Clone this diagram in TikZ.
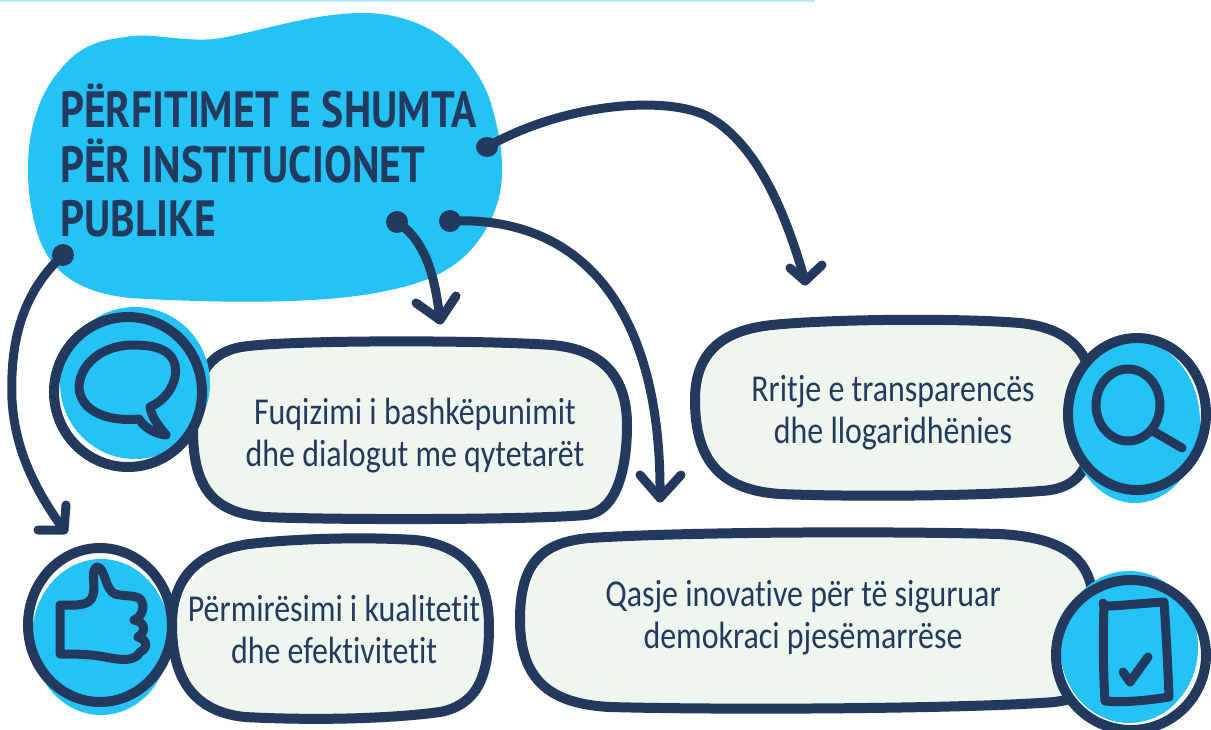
\documentclass[tikz,border=0pt]{standalone}
\usepackage{fontspec}
\setmainfont[FakeStretch=0.84,Ligatures=NoCommon]{Carlito}
\newfontfamily\titlefont[FakeStretch=0.82]{PT Sans}
\definecolor{navy}{HTML}{233A5E}
\definecolor{sky}{HTML}{25C3F5}
\definecolor{mint}{HTML}{EFF6EE}
\definecolor{topline}{HTML}{BDEBFB}
\tikzset{
  outline/.style={draw=navy,line width=10pt,line join=round,line cap=round},
  boxfill/.style={fill=mint},
  iconline/.style={draw=navy,line width=9pt,line join=round,line cap=round},
  conn/.style={draw=navy,line width=9pt,line cap=round,line join=round},
  dot/.style={fill=navy},
  bodytext/.style={text=navy,align=center,font=\fontsize{38}{42}\selectfont,inner sep=0pt},
  titletext/.style={text=navy,align=left,font=\titlefont\bfseries\fontsize{51}{54.5}\selectfont,inner sep=0pt}
}
\newcommand{\boxA}{(249,346) .. controls (300,340) and (480,340) .. (552,345) .. controls (610,350) and (627,385) .. (627,425) .. controls (627,460) and (620,512) .. (585,515) .. controls (530,520) and (330,520) .. (265,517) .. controls (215,513) and (193,490) .. (193,430) .. controls (193,380) and (205,350) .. (249,346) -- cycle}
\newcommand{\boxB}{(772,325) .. controls (830,319) and (960,318) .. (1020,323) .. controls (1060,327) and (1085,345) .. (1090,375) -- (1090,450) .. controls (1085,480) and (1065,490) .. (1040,491) .. controls (980,496) and (850,497) .. (780,494) .. controls (720,490) and (695,460) .. (695,400) .. controls (695,350) and (725,330) .. (772,325) -- cycle}
\newcommand{\boxC}{(249,544) .. controls (300,538) and (370,537) .. (415,540) .. controls (465,545) and (489,575) .. (489,627) .. controls (489,680) and (475,705) .. (440,712) .. controls (380,720) and (300,720) .. (245,717) .. controls (195,712) and (172,680) .. (172,625) .. controls (172,580) and (195,552) .. (249,544) -- cycle}
\newcommand{\boxD}{(590,538) .. controls (680,532) and (880,531) .. (1000,534) .. controls (1050,537) and (1085,550) .. (1092,590) -- (1092,680) .. controls (1085,700) and (1060,702) .. (1040,703) .. controls (940,709) and (720,710) .. (610,707) .. controls (550,704) and (520,680) .. (520,620) .. controls (520,565) and (540,542) .. (590,538) -- cycle}
\begin{document}
\begin{tikzpicture}[x=1pt,y=-1pt]
\useasboundingbox (0,0) rectangle (1211,729);
\clip (0,0) rectangle (1211,729);
\fill[topline] (0,0) rectangle (815,2);
% title blob
\fill[sky] (126,37) .. controls (150,32) and (180,42) .. (215,39) .. controls (260,32) and (310,13) .. (364,13) .. controls (420,13) and (470,45) .. (490,100) .. controls (505,150) and (508,190) .. (488,225) .. controls (470,260) and (440,280) .. (390,290) .. controls (340,302) and (250,305) .. (130,298) .. controls (70,292) and (45,265) .. (35,225) .. controls (22,175) and (25,110) .. (60,70) .. controls (80,45) and (100,40) .. (126,37) -- cycle;
\node[titletext,anchor=north west] (title) at (60,84) {PËRFITIMET E SHUMTA\\PËR INSTITUCIONET\\PUBLIKE};
% boxes
\fill[boxfill,shift={(5,5)}] \boxA;
\draw[outline] \boxA;
\fill[boxfill,shift={(5,5)}] \boxB;
\draw[outline] \boxB;
\fill[boxfill,shift={(5,5)}] \boxC;
\draw[outline] \boxC;
\fill[boxfill,shift={(5,5)}] \boxD;
\draw[outline] \boxD;
\node[bodytext] (t1) at (415,436) {Fuqizimi i bashkëpunimit\\dhe dialogut me qytetarët};
\node[bodytext] (t2) at (893,413) {Rritje e transparencës\\dhe llogaridhënies};
\node[bodytext] (t3) at (334,629) {Përmirësimi i kualitetit\\dhe efektivitetit};
\node[bodytext] (t4) at (803,618) {Qasje inovative për të siguruar\\demokraci pjesëmarrëse};
% circles
\fill[white] (128,392) ellipse [x radius=74,y radius=75];
\fill[sky] (135,383) ellipse [x radius=75,y radius=76];
\draw[outline] (128,392) ellipse [x radius=74,y radius=75];
\fill[white] (100,625) ellipse [x radius=72,y radius=77];
\fill[sky] (101,637) ellipse [x radius=69,y radius=78];
\draw[outline] (100,625) ellipse [x radius=72,y radius=77];
\fill[white] (1137,414) ellipse [x radius=69,y radius=76];
\fill[sky] (1135,422) ellipse [x radius=65,y radius=81];
\draw[outline] (1137,414) ellipse [x radius=69,y radius=76];
\fill[white] (1131,655) ellipse [x radius=75,y radius=75];
\fill[sky] (1129,647) ellipse [x radius=69,y radius=76];
\draw[outline] (1131,655) ellipse [x radius=75,y radius=75];
% icons
\draw[iconline] (150,407) .. controls (170,398) and (178,378) .. (175,365) .. controls (170,345) and (145,345) .. (129,345) .. controls (100,347) and (80,365) .. (79,387) .. controls (80,410) and (105,422) .. (139,419) .. controls (145,428) and (155,434) .. (166,435) .. controls (158,425) and (152,418) .. (150,407) -- cycle;
\draw[iconline] (60,605) .. controls (75,605) and (90,607) .. (93,595) .. controls (96,585) and (90,570) .. (97,567) .. controls (105,567) and (105,590) .. (115,594) .. controls (125,597) and (140,594) .. (142,602) .. controls (145,610) and (140,618) .. (134,620) .. controls (146,622) and (146,632) .. (138,637) .. controls (148,640) and (148,648) .. (140,652) .. controls (135,662) and (120,660) .. (105,657) .. controls (90,654) and (75,654) .. (60,654) -- cycle;
\draw[iconline] (1128,405) ellipse [x radius=32,y radius=36];
\draw[iconline] (1153,431) -- (1182,448);
\draw[iconline] (1103,603) -- (1104,606) .. controls (1120,606) and (1145,603) .. (1164,602) .. controls (1166,630) and (1168,670) .. (1169,697) .. controls (1150,700) and (1125,703) .. (1105,701) .. controls (1103,670) and (1103,630) .. (1104,606);
\draw[iconline] (1123,672) -- (1130,682) -- (1148,657);
% connectors
\coordinate (dotA) at (487,147);
\coordinate (tipA) at (805,281);
\coordinate (dotB) at (397,222);
\coordinate (tipB) at (440,320);
\coordinate (dotC) at (450,221);
\coordinate (tipC) at (660,498);
\coordinate (dotD) at (63,255);
\coordinate (tipD) at (64,530);
\fill[dot] (dotA) ellipse [x radius=11,y radius=10];
\fill[dot] (dotB) ellipse [x radius=11,y radius=11];
\fill[dot] (dotC) ellipse [x radius=11,y radius=11];
\fill[dot] (dotD) ellipse [x radius=11,y radius=11];
\draw[conn] (dotA) .. controls (560,105) and (660,95) .. (705,115) .. controls (755,140) and (785,210) .. (tipA);
\draw[conn] (790,268) -- (tipA) -- (822,265);
\draw[conn] (dotB) .. controls (425,240) and (435,275) .. (tipB);
\draw[conn] (416,303) -- (tipB) -- (456,296);
\draw[conn] (dotC) .. controls (590,215) and (662,320) .. (tipC);
\draw[conn] (640,475) -- (tipC) -- (681,475);
\draw[conn] (dotD) .. controls (20,295) and (10,345) .. (12,400) .. controls (15,450) and (35,490) .. (tipD);
\draw[conn] (66,505) -- (tipD) -- (38,530);
\end{tikzpicture}
\end{document}
